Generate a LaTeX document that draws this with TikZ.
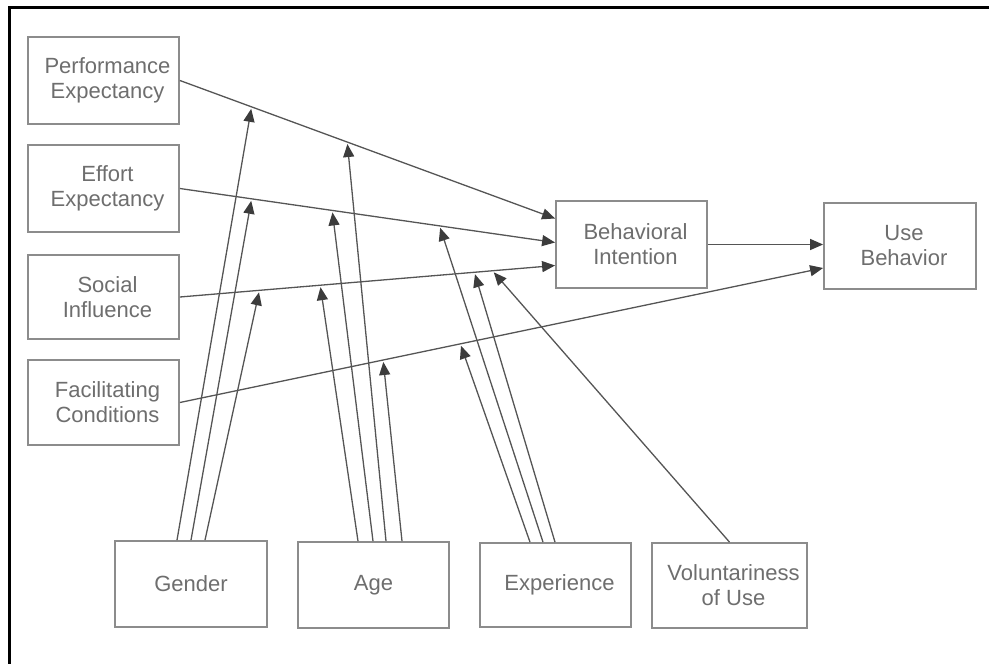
\documentclass[tikz,border=0pt]{standalone}
\usepackage{fontspec}
\setmainfont{Liberation Sans}
\usetikzlibrary{arrows.meta,calc}
\definecolor{boxline}{RGB}{140,140,140}
\definecolor{linkline}{RGB}{85,85,85}
\definecolor{tipfill}{RGB}{60,60,60}
\definecolor{labeltext}{RGB}{110,110,110}
\begin{document}
\begin{tikzpicture}[x=1pt,y=-1pt,
  construct/.style={draw=boxline, line width=1.8pt, fill=white,
    minimum width=151pt, minimum height=87pt, inner sep=0pt,
    align=center, text=labeltext, font=\fontsize{22}{25}\selectfont},
  link/.style={draw=linkline, line width=1.3pt,
    -{Triangle[length=13pt,width=11pt,fill=tipfill,color=tipfill]}},
  moderates/.style={link, shorten >=2pt}]
\useasboundingbox (0,0) rectangle (989,664);
% page frame (top and left edges)
\draw[line width=3pt] (989,7) -- (9,7) -- (9,664);

% determinants
\node[construct] (pe) at (103.5,80.5) {\hspace*{8pt}Performance\\\hspace*{8pt}Expectancy};
\node[construct] (ee) at (103.5,188.5) {\hspace*{8pt}Effort\\\hspace*{8pt}Expectancy};
\node[construct, minimum height=84pt] (si) at (103.5,297) {\hspace*{8pt}Social\\\hspace*{8pt}Influence};
\node[construct, minimum height=85pt] (fc) at (103.5,402.5) {\hspace*{8pt}Facilitating\\\hspace*{8pt}Conditions};
% outcomes
\node[construct] (bi) at (631.5,244.5) {\hspace*{8pt}Behavioral\\\hspace*{8pt}Intention};
\node[construct, minimum width=152pt, minimum height=86pt] (ub) at (900,246) {\hspace*{8pt}Use\\\hspace*{8pt}Behavior};
% moderators
\node[construct, minimum width=152pt, minimum height=86pt] (gender) at (191,584) {Gender};
\node[construct, minimum height=86pt] (age) at (373.5,585) {Age};
\node[construct, minimum height=84pt] (exp) at (555.5,585) {\hspace*{8pt}Experience};
\node[construct, minimum width=155pt, minimum height=85pt] (vol) at (729.5,585.5) {\hspace*{8pt}Voluntariness\\\hspace*{8pt}of Use};

% entry points of the direct effects
\coordinate (bi-pe) at ($(bi.west)+(0,-26)$);
\coordinate (bi-ee) at ($(bi.west)+(0,-2)$);
\coordinate (bi-si) at ($(bi.west)+(0,21)$);
\coordinate (ub-fc) at ($(ub.west)+(0,22)$);

% direct effects
\draw[link] (pe.east) -- (bi-pe);
\draw[link] (ee.east) -- (bi-ee);
\draw[link] (si.east) -- (bi-si);
\draw[link] (fc.east) -- (ub-fc);
\draw[link] (bi.east) -- (bi.east -| ub.west);

% points on the direct paths where moderators act
\coordinate (pe-g) at ($(pe.east)!0.191!(bi-pe)$);
\coordinate (pe-a) at ($(pe.east)!0.446!(bi-pe)$);
\coordinate (ee-g) at ($(ee.east)!0.191!(bi-ee)$);
\coordinate (ee-a) at ($(ee.east)!0.406!(bi-ee)$);
\coordinate (ee-e) at ($(ee.east)!0.692!(bi-ee)$);
\coordinate (si-g) at ($(si.east)!0.212!(bi-si)$);
\coordinate (si-a) at ($(si.east)!0.374!(bi-si)$);
\coordinate (si-e) at ($(si.east)!0.785!(bi-si)$);
\coordinate (si-v) at ($(si.east)!0.833!(bi-si)$);
\coordinate (fc-a) at ($(fc.east)!0.316!(ub-fc)$);
\coordinate (fc-e) at ($(fc.east)!0.436!(ub-fc)$);

% moderator origins on the top edges
\coordinate (g1) at ($(gender.north)+(-14,0)$);
\coordinate (g2) at (gender.north);
\coordinate (g3) at ($(gender.north)+(14,0)$);
\coordinate (a1) at ($(age.north)+(-15.5,0)$);
\coordinate (a2) at ($(age.north)+(-0.5,0)$);
\coordinate (a3) at ($(age.north)+(12.5,0)$);
\coordinate (a4) at ($(age.north)+(28.5,0)$);
\coordinate (e1) at ($(exp.north)+(-25.5,0)$);
\coordinate (e2) at ($(exp.north)+(-12.5,0)$);
\coordinate (e3) at ($(exp.north)+(-0.5,0)$);

% moderating effects
\draw[moderates] (g1) -- (pe-g);
\draw[moderates] (g2) -- (ee-g);
\draw[moderates] (g3) -- (si-g);
\draw[moderates] (a1) -- (si-a);
\draw[moderates] (a2) -- (ee-a);
\draw[moderates] (a3) -- (pe-a);
\draw[moderates] (a4) -- (fc-a);
\draw[moderates] (e1) -- (fc-e);
\draw[moderates] (e2) -- (ee-e);
\draw[moderates] (e3) -- (si-e);
\draw[moderates] (vol.north) -- (si-v);
\end{tikzpicture}
\end{document}
